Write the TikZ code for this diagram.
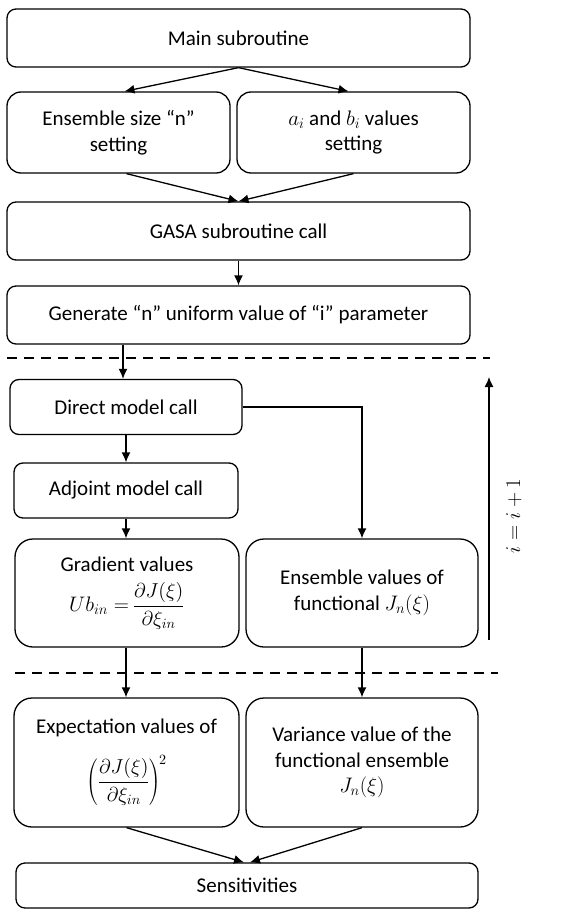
\RequirePackage{fix-cm}
\documentclass[tikz,border=0pt]{standalone}
\usepackage{graphicx}
\usepackage{fontspec}
\setmainfont{Carlito}
\usetikzlibrary{arrows.meta,calc}
\tikzset{
  box/.style={draw, line width=1.3pt, rounded corners=9pt, align=center, inner sep=2pt,
    font=\fontsize{21}{25.5}\selectfont},
  bigbox/.style={box, rounded corners=18pt},
  arr/.style={line width=1.3pt, -{Latex[length=10pt,width=9pt]}},
  sep/.style={line width=1.5pt, dash pattern=on 10pt off 7pt}
}
\newcommand{\fracbig}[2]{\scalebox{1.3}{\fontsize{15.5}{18}\selectfont$\displaystyle\frac{#1}{#2}$}}
\begin{document}
\begin{tikzpicture}[x=1pt,y=-1pt]
\useasboundingbox (0,0) rectangle (568,909);
\node[box, minimum width=463pt, minimum height=58pt] (main) at (238.5,38) {Main subroutine};
\node[box, rounded corners=14pt, minimum width=223pt, minimum height=81pt] (ens) at (118.5,132.5) {Ensemble size “n”\\setting};
\node[box, rounded corners=14pt, minimum width=233pt, minimum height=81pt] (ab) at (353.5,132.5) {$a_i$ and $b_i$ values\\setting};
\node[box, minimum width=463pt, minimum height=58pt] (gasa) at (238.5,231) {GASA subroutine call};
\node[box, minimum width=463pt, minimum height=58pt] (gen) at (238.5,315) {Generate “n” uniform value of “i” parameter};
\node[box, minimum width=232pt, minimum height=55pt] (direct) at (126,407) {Direct model call};
\node[box, minimum width=224pt, minimum height=55pt] (adj) at (126,490.5) {Adjoint model call};
\node[bigbox, minimum width=224pt, minimum height=108pt] (grad) at (127,593) {Gradient values\\[10pt]$Ub_{in}=$\,\fracbig{\partial J(\xi)}{\partial\xi_{in}}};
\node[bigbox, minimum width=232pt, minimum height=108pt] (ensv) at (362,593) {Ensemble values of\\functional $J_n(\xi)$};
\node[bigbox, minimum width=225pt, minimum height=129pt] (exp) at (126.5,762.5) {Expectation values of\\[17pt]\scalebox{1.3}{\fontsize{15.5}{18}\selectfont$\displaystyle\left(\frac{\partial J(\xi)}{\partial\xi_{in}}\right)^{\!2}$}};
\node[bigbox, minimum width=232pt, minimum height=129pt] (var) at (362,762.5) {Variance value of the\\functional ensemble\\$J_n(\xi)$};
\node[box, minimum width=462pt, minimum height=45pt] (sens) at (247,885.5) {Sensitivities};

\draw[sep] (7,358) -- (490,358);
\draw[sep] (15,673) -- (498,673);

\draw[arr] (main.south) -- ([xshift=6pt]ens.north);
\draw[arr] (main.south) -- ([xshift=-5pt]ab.north);
\draw[arr] ([xshift=8pt]ens.south) -- (gasa.north);
\draw[arr] ([xshift=0pt]ab.south) -- (gasa.north);
\draw[arr] (gasa.south) -- (gen.north);
\draw[arr] ([xshift=-3pt]direct.north |- gen.south) -- ([xshift=-3pt]direct.north);
\draw[arr] (direct.south) -- (adj.south |- direct.south) -- (adj.north);
\draw[arr] (adj.south) -- (adj.south |- grad.north);
\draw[arr] (direct.east) -| (ensv.north);
\draw[arr] ([xshift=-1pt]grad.south) -- ([xshift=-1pt]grad.south |- exp.north);
\draw[arr] (ensv.south) -- (var.north);
\draw[arr] (exp.south) -- ([xshift=-3pt]sens.north);
\draw[arr] (var.south) -- ([xshift=3pt]sens.north);

\coordinate (loopA) at (489,640);
\coordinate (loopB) at (489,377);
\draw[arr] (loopA) -- (loopB);
\node[rotate=90, font=\fontsize{21}{25.5}\selectfont] (lbl) at (514,516) {$i=i+1$};
\end{tikzpicture}
\end{document}
